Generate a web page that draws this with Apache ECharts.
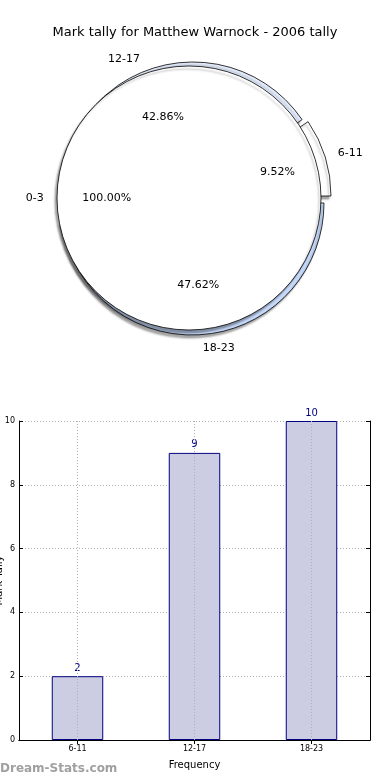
<!DOCTYPE html>
<html>
<head>
<meta charset="utf-8">
<script src="https://cdn.jsdelivr.net/npm/echarts@6/dist/echarts.min.js"></script>
<style>
html,body{margin:0;padding:0;background:#fff;}
#c{width:390px;height:780px;}
</style>
</head>
<body>
<div id="c"></div>
<script>
// ---- data ----
const titleText = 'Mark tally for Matthew Warnock - 2006 tally';
const pieCategories = ['6-11', '12-17', '18-23'];
const pieValues = [2, 9, 10];
const innerCategories = ['0-3'];
const innerValues = [1];
const barCategories = ['6-11', '12-17', '18-23'];
const barValues = [2, 9, 10];
const yTicks = [0, 2, 4, 6, 8, 10];
const xAxisName = 'Frequency';
const yAxisName = 'Mark Tally';
const watermark = 'Dream-Stats.com';

// ---- styling ----
const FONT = 'DejaVu Sans';
const C = [189, 198];
const R = 132;
const wedgeShift = [[10, -2], [4, -4], [3, 5]];
const wedgeColors = ['#ffffff', '#e4ecfc', '#c6d9fa'];
const shadow = {shadowColor: 'rgba(0,0,0,0.35)', shadowBlur: 2, shadowOffsetX: -2, shadowOffsetY: 3};
const clear = 'rgba(0,0,0,0)';

const series = [];
pieCategories.forEach((cat, i) => {
  const c = [C[0] + wedgeShift[i][0], C[1] + wedgeShift[i][1]];
  // wedge shape + its name label
  series.push({
    type: 'pie', center: c, radius: R, startAngle: 0, clockwise: false,
    avoidLabelOverlap: false, animation: false, silent: true, z: 1,
    emphasis: {disabled: true},
    label: {show: true, position: 'outside', color: '#000', fontFamily: FONT, fontSize: 11, distanceToLabelLine: 0, formatter: '{b}'},
    labelLine: {show: true, length: R * 0.1, length2: 0, lineStyle: {color: clear, width: 0}},
    data: pieValues.map((v, j) => j === i ? {
      name: pieCategories[j], value: v,
      itemStyle: Object.assign({color: wedgeColors[j], borderColor: '#000', borderWidth: 0.8}, shadow)
    } : {
      name: pieCategories[j], value: v,
      itemStyle: {color: clear, borderWidth: 0},
      label: {show: false}, labelLine: {show: false}
    })
  });
  // percentage label (transparent)
  series.push({
    type: 'pie', center: c, radius: R * 1.2, startAngle: 0, clockwise: false,
    avoidLabelOverlap: false, animation: false, silent: true, z: 5,
    emphasis: {disabled: true},
    label: {show: true, position: 'inner', color: '#000', fontFamily: FONT, fontSize: 11,
      formatter: p => p.percent.toFixed(2) + '%'},
    labelLine: {show: false},
    data: pieValues.map((v, j) => ({
      name: pieCategories[j], value: v,
      itemStyle: {color: clear, borderWidth: 0},
      label: {show: j === i}
    }))
  });
});
// inner full pie 0-3
series.push({
  type: 'pie', center: C, radius: R, startAngle: 0, clockwise: false,
  animation: false, silent: true, z: 3, avoidLabelOverlap: false,
  emphasis: {disabled: true},
  label: {show: true, position: 'outside', color: '#000', fontFamily: FONT, fontSize: 11, distanceToLabelLine: 0, formatter: '{b}'},
  labelLine: {show: true, length: R * 0.1, length2: 0, lineStyle: {color: clear, width: 0}},
  itemStyle: Object.assign({color: '#ffffff', borderColor: '#000', borderWidth: 0.8}, shadow),
  data: innerValues.map((v, j) => ({name: innerCategories[j], value: v}))
});
series.push({
  type: 'pie', center: C, radius: R * 1.2, startAngle: 0, clockwise: false,
  animation: false, silent: true, z: 5, avoidLabelOverlap: false,
  emphasis: {disabled: true},
  label: {show: true, position: 'inner', color: '#000', fontFamily: FONT, fontSize: 11,
    formatter: p => p.percent.toFixed(2) + '%'},
  labelLine: {show: false},
  itemStyle: {color: clear, borderWidth: 0},
  data: innerValues.map((v, j) => ({name: innerCategories[j], value: v}))
});

// bar series
series.push({
  type: 'bar', xAxisIndex: 0, yAxisIndex: 0,
  data: barValues, barWidth: '44%',
  animation: false, silent: true, z: 2,
  itemStyle: {color: '#cccce3', borderColor: '#000080', borderWidth: 1},
  label: {show: true, position: 'top', distance: 3, color: '#000080', fontFamily: FONT, fontSize: 10},
  markLine: {
    silent: true, symbol: 'none', animation: false,
    label: {show: false},
    lineStyle: {color: '#b0b0b0', type: [1, 2], width: 1},
    data: barCategories.map(c => ({xAxis: c}))
  }
});

const axisFont = {fontFamily: FONT, fontSize: 8, color: '#000'};
const option = {
  backgroundColor: '#fff',
  animation: false,
  title: {
    text: titleText, left: 'center', top: 21,
    textStyle: {fontFamily: FONT, fontSize: 13, fontWeight: 'normal', color: '#000'}
  },
  grid: {left: 19, right: 20, top: 421, bottom: 40, containLabel: false, outerBoundsMode: 'none'},
  xAxis: [{
    type: 'category', data: barCategories, boundaryGap: true, position: 'bottom',
    name: xAxisName, nameLocation: 'middle', nameGap: 20, nameMoveOverlap: false,
    nameTextStyle: {fontFamily: FONT, fontSize: 10, color: '#000'},
    axisLine: {lineStyle: {color: '#000', width: 1}},
    axisTick: {show: true, inside: true, alignWithLabel: true, length: 4, lineStyle: {color: '#000'}},
    axisLabel: Object.assign({margin: 5}, axisFont),
    splitLine: {show: false}
  }, {
    type: 'category', data: barCategories, boundaryGap: true, position: 'top',
    axisLine: {lineStyle: {color: '#000', width: 1}},
    axisTick: {show: true, inside: true, alignWithLabel: true, length: 4, lineStyle: {color: '#000'}},
    axisLabel: {show: false}, splitLine: {show: false}
  }],
  yAxis: [{
    type: 'value', min: yTicks[0], max: yTicks[yTicks.length - 1], interval: 2,
    name: yAxisName, nameLocation: 'middle', nameGap: 15, nameRotate: 90, nameMoveOverlap: false,
    nameTextStyle: {fontFamily: FONT, fontSize: 10, color: '#000'},
    axisLine: {show: true, lineStyle: {color: '#000', width: 1}},
    axisTick: {show: true, inside: true, length: 4, lineStyle: {color: '#000'}},
    axisLabel: Object.assign({margin: 4}, axisFont),
    splitLine: {show: true, lineStyle: {color: '#b0b0b0', type: [1, 2], width: 1}}
  }, {
    type: 'value', min: yTicks[0], max: yTicks[yTicks.length - 1], interval: 2, position: 'right',
    axisLine: {show: true, lineStyle: {color: '#000', width: 1}},
    axisTick: {show: true, inside: true, length: 4, lineStyle: {color: '#000'}},
    axisLabel: {show: false}, splitLine: {show: false}
  }],
  graphic: [{
    type: 'text', left: 0, top: 763, silent: true,
    style: {text: watermark, fill: '#a0a0a0', font: 'bold 12px "DejaVu Sans"'}
  }],
  series: series
};

const chart = echarts.init(document.getElementById('c'), null, {renderer: 'canvas'});
chart.setOption(option);
</script>
</body>
</html>
